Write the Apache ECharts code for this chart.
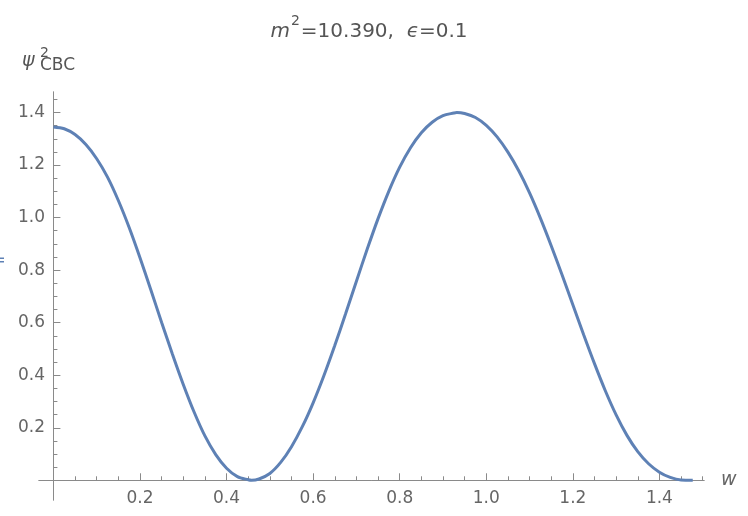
<!DOCTYPE html>
<html>
<head>
<meta charset="utf-8">
<script src="https://cdn.jsdelivr.net/npm/echarts@6/dist/echarts.min.js"></script>
<style>
html,body{margin:0;padding:0;background:#fff;}
#chart{width:748px;height:516px;}
</style>
</head>
<body>
<div id="chart"></div>
<script>
// ---- data ----
const wValues = [
  0, 0.025, 0.05, 0.075, 0.1, 0.125, 0.15, 0.175, 0.2, 0.225, 0.25, 0.275, 0.3, 0.325, 0.35, 0.375, 0.4, 0.425, 0.45, 0.458,
  0.475, 0.5, 0.525, 0.55, 0.575, 0.6, 0.625, 0.65, 0.675, 0.7, 0.725, 0.75, 0.775, 0.8, 0.825, 0.85, 0.875, 0.9, 0.925, 0.932,
  0.95, 0.975, 1.0, 1.025, 1.05, 1.075, 1.1, 1.125, 1.15, 1.175, 1.2, 1.225, 1.25, 1.275, 1.3, 1.325, 1.35, 1.375, 1.4, 1.425, 1.45, 1.477
];
const psiValues = [
  1.345, 1.338, 1.316, 1.278, 1.224, 1.154, 1.065, 0.962, 0.847, 0.725, 0.601, 0.480, 0.365, 0.260, 0.169, 0.098, 0.046, 0.014, 0.002, 0,
  0.005, 0.026, 0.068, 0.128, 0.204, 0.295, 0.399, 0.513, 0.634, 0.758, 0.880, 0.996, 1.101, 1.192, 1.266, 1.323, 1.363, 1.388, 1.398, 1.400,
  1.396, 1.381, 1.351, 1.307, 1.249, 1.178, 1.094, 0.998, 0.893, 0.782, 0.668, 0.554, 0.444, 0.341, 0.249, 0.171, 0.109, 0.063, 0.031, 0.011, 0.001, 0
];

const xMajorTicks = [0.2, 0.4, 0.6, 0.8, 1.0, 1.2, 1.4];
const xMinorTicks = [0.05, 0.1, 0.15, 0.25, 0.3, 0.35, 0.45, 0.5, 0.55, 0.65, 0.7, 0.75, 0.85, 0.9, 0.95, 1.05, 1.1, 1.15, 1.25, 1.3, 1.35, 1.45, 1.5];
const yMajorTicks = [0.2, 0.4, 0.6, 0.8, 1.0, 1.2, 1.4];
const yMinorTicks = [0.05, 0.1, 0.15, 0.25, 0.3, 0.35, 0.45, 0.5, 0.55, 0.65, 0.7, 0.75, 0.85, 0.9, 0.95, 1.05, 1.1, 1.15, 1.25, 1.3, 1.35, 1.45];

const titleParts = { m: 'm', sup: '2', mid: '=10.390,  ', eps: 'ϵ', end: '=0.1' };
const yLabelParts = { psi: 'ψ', sup: '2', sub: 'CBC' };
const xName = 'w';

const lineColor = '#5E81B5';
const axisColor = '#8a8a8a';
const labelColor = '#666666';
const textColor = '#555555';
const FONT = '"DejaVu Sans", "Liberation Sans", Arial, sans-serif';

const xMin = -0.0333, xMax = 1.503, yMin = -0.075, yMax = 1.478;

const chart = echarts.init(document.getElementById('chart'), null, {renderer: 'canvas'});

function xAxisCfg(ticks, len, labels, withName) {
  return {
    type: 'value', min: xMin, max: xMax, position: 'bottom',
    splitLine: {show: false},
    axisLine: {show: true, onZero: true, onZeroAxisIndex: 0, lineStyle: {color: axisColor, width: 1}},
    axisTick: {show: true, inside: true, length: len, customValues: ticks, lineStyle: {color: axisColor, width: 1}},
    axisLabel: labels ? {show: true, customValues: ticks, margin: -10, color: labelColor, fontSize: 17, fontFamily: FONT,
      formatter: v => Number(v).toFixed(1)} : {show: false},
    name: withName ? xName : '',
    nameLocation: 'end', nameGap: 17,
    nameTextStyle: {color: labelColor, fontSize: 19, fontStyle: 'italic', fontFamily: FONT}
  };
}
function yAxisCfg(ticks, len, labels) {
  return {
    type: 'value', min: yMin, max: yMax, position: 'left',
    splitLine: {show: false},
    axisLine: {show: true, onZero: true, onZeroAxisIndex: 0, lineStyle: {color: axisColor, width: 1}},
    axisTick: {show: true, inside: true, length: len, customValues: ticks, lineStyle: {color: axisColor, width: 1}},
    axisLabel: labels ? {show: true, customValues: ticks, margin: -6, color: labelColor, fontSize: 17, fontFamily: FONT,
      formatter: v => Number(v).toFixed(1)} : {show: false}
  };
}

const option = {
  animation: false,
  backgroundColor: '#ffffff',
  grid: {left: 39, right: 44, top: 92, bottom: 16, containLabel: false, outerBoundsMode: 'none'},
  xAxis: [xAxisCfg(xMajorTicks, 7, true, true), xAxisCfg(xMinorTicks, 4, false, false)],
  yAxis: [yAxisCfg(yMajorTicks, 7, true), yAxisCfg(yMinorTicks, 4, false)],
  series: [{
    type: 'line',
    xAxisIndex: 0, yAxisIndex: 0,
    data: wValues.map((w, i) => [w, psiValues[i]]),
    smooth: 0.3,
    showSymbol: false,
    lineStyle: {color: lineColor, width: 3},
    clip: false
  }],
  graphic: [
    {
      type: 'text', x: 369, y: 30,
      style: {
        text: '{m|' + titleParts.m + '}{s|' + titleParts.sup + '}{n|' + titleParts.mid + '}{m|' + titleParts.eps + '}{n|' + titleParts.end + '}',
        textAlign: 'center', textVerticalAlign: 'middle',
        rich: {
          m: {fontSize: 20, fontStyle: 'italic', fontFamily: FONT, fill: textColor, color: textColor, verticalAlign: 'bottom', lineHeight: 24},
          n: {fontSize: 20, fontFamily: FONT, fill: textColor, color: textColor, verticalAlign: 'bottom', lineHeight: 24},
          s: {fontSize: 14, fontFamily: FONT, fill: textColor, color: textColor, verticalAlign: 'bottom', lineHeight: 24, padding: [0, 1, 14, 1]}
        }
      }
    },
    {type: 'text', x: 22, y: 61, style: {text: yLabelParts.psi, font: 'italic 19px ' + FONT, fill: textColor, textVerticalAlign: 'middle'}},
    {type: 'text', x: 40, y: 53, style: {text: yLabelParts.sup, font: '14px ' + FONT, fill: textColor, textVerticalAlign: 'middle'}},
    {type: 'text', x: 40, y: 65.5, style: {text: yLabelParts.sub, font: '17px ' + FONT, fill: textColor, textVerticalAlign: 'middle'}},
    {type: 'rect', shape: {x: 0, y: 257.5, width: 4, height: 1.5}, style: {fill: lineColor}},
    {type: 'rect', shape: {x: 0, y: 261, width: 4, height: 1.5}, style: {fill: lineColor}}
  ]
};
chart.setOption(option);
</script>
</body>
</html>
